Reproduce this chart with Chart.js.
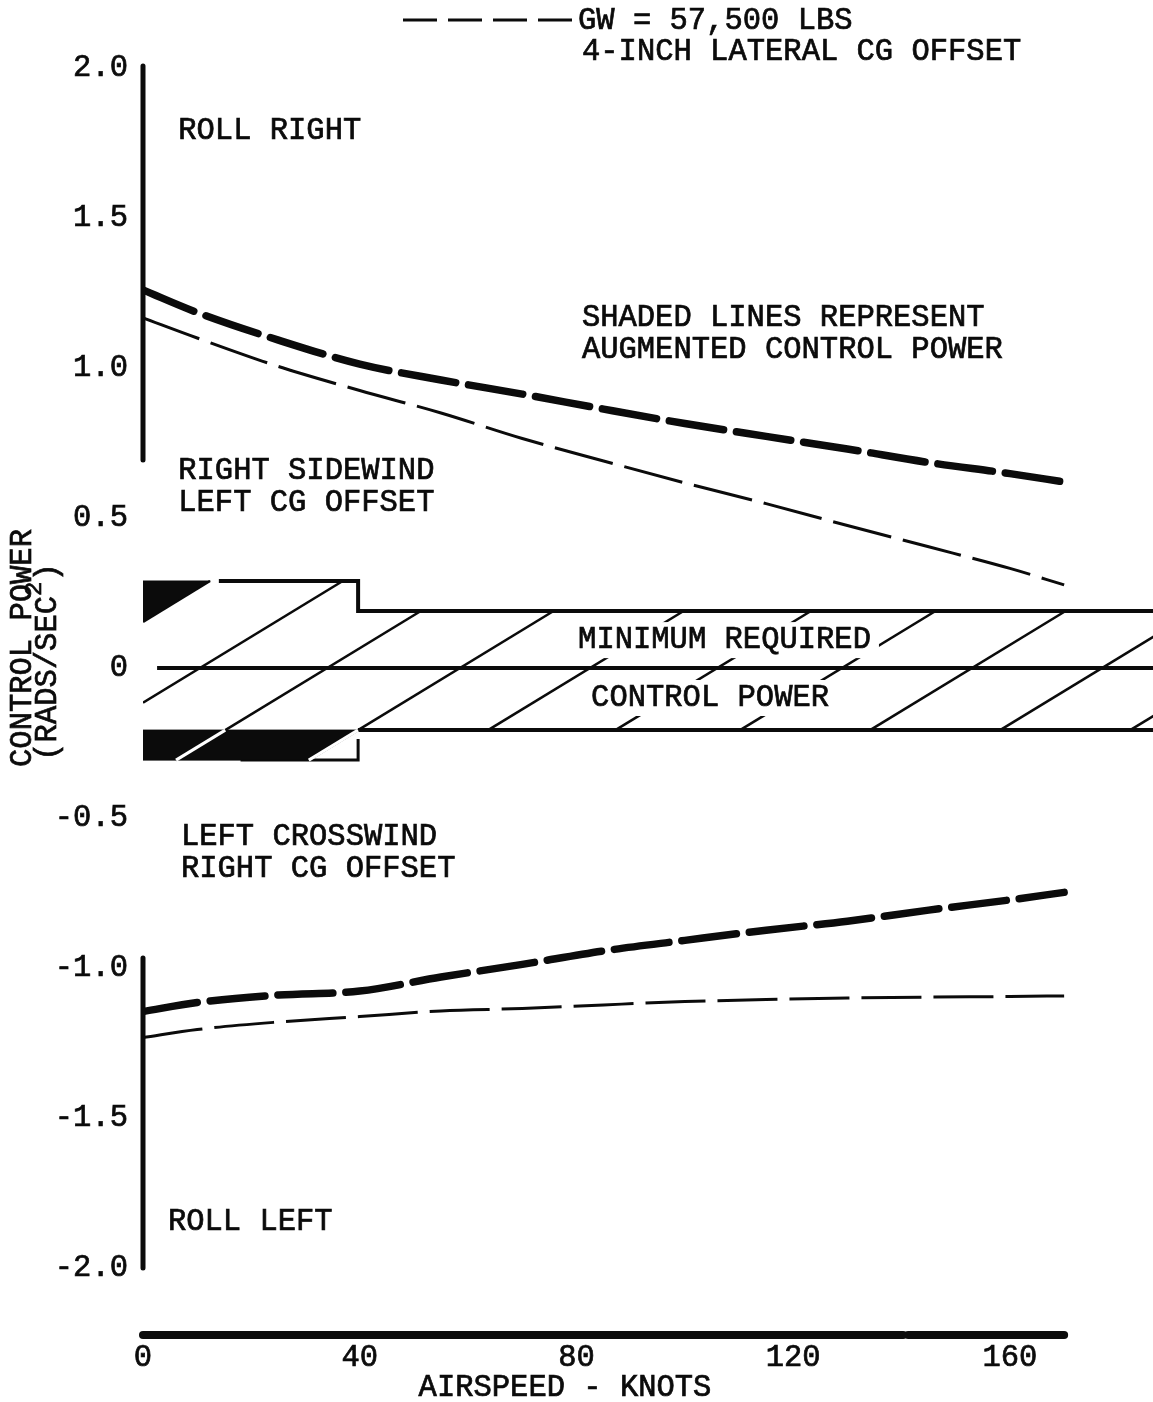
<!DOCTYPE html>
<html>
<head>
<meta charset="utf-8">
<title>Control power vs airspeed</title>
<script src="https://cdn.jsdelivr.net/npm/chart.js@4.4.1/dist/chart.umd.min.js"></script>
<style>
  html, body { margin: 0; padding: 0; background: #fff; }
  canvas { display: block; }
</style>
</head>
<body>
<canvas id="power-chart" width="1153" height="1402"></canvas>
<script>
const FONT = "'Liberation Mono', 'Courier New', monospace";
const FONT_PX = 30.5;
const INK = '#0b0b0b';

// airspeed stations (knots) shared by the four curves
const speeds = [0, 10, 25, 40, 55, 70, 85, 100, 115, 130, 145, 160, 170];
// right sidewind / left CG offset -> roll right
const rightAugmented = [1.26, 1.185, 1.093, 1.013, 0.96, 0.913, 0.863, 0.815, 0.772, 0.73, 0.685, 0.648, 0.62];
const rightBasic = [1.167, 1.1, 1.005, 0.925, 0.85, 0.765, 0.69, 0.617, 0.548, 0.475, 0.404, 0.332, 0.277];
// left crosswind / right CG offset -> roll left
const leftAugmented = [-1.145, -1.115, -1.09, -1.077, -1.03, -0.988, -0.943, -0.908, -0.874, -0.844, -0.807, -0.773, -0.748];
const leftBasic = [-1.232, -1.205, -1.18, -1.162, -1.143, -1.135, -1.123, -1.112, -1.105, -1.1, -1.097, -1.095, -1.093];

// minimum required control power band (below / above the 40 kt step)
const bandStep = 39.7;
const bandTop = [0.29, 0.19];
const bandBottom = [-0.307, -0.207];
const bandEnd = 186.4;
// hatch strokes: speed where each one crosses zero, and rise per knot
const hatchCross = [-14, 10.5, 34, 58.5, 82.5, 106, 129, 153, 177, 201];
const hatchRise = 0.011;
// solid black corners of the low speed part of the band
const shadeTop = [{ x: 0, y: 0.29 }, { x: 12.4, y: 0.29 }, { x: 0, y: 0.154 }];
const shadeBottom = [{ x: 0, y: -0.207 }, { x: 39.7, y: -0.207 }, { x: 30.6, y: -0.307 }, { x: 0, y: -0.307 }];

// hand drawn axis strokes
const yAxisUpper = [2.007, 0.693];
const yAxisLower = [-0.967, -2.0];
const xAxisLevel = -2.223;
const xAxisRuns = [[0, 140.3], [141.2, 170]];

const xTicks = [0, 40, 80, 120, 160];
const yTicks = [2, 1.5, 1, 0.5, 0, -0.5, -1, -1.5, -2];
const yTickLabels = ['2.0', '1.5', '1.0', '0.5', '0', '-0.5', '-1.0', '-1.5', '-2.0'];

const notes = [
	{ text: 'ROLL RIGHT', x: 6.5, y: 1.79 },
	{ text: 'SHADED LINES REPRESENT', x: 81, y: 1.167 },
	{ text: 'AUGMENTED CONTROL POWER', x: 81, y: 1.06 },
	{ text: 'RIGHT SIDEWIND', x: 6.5, y: 0.657 },
	{ text: 'LEFT CG OFFSET', x: 6.5, y: 0.55 },
	{ text: 'MINIMUM REQUIRED', x: 80.3, y: 0.093, clear: true },
	{ text: 'CONTROL POWER', x: 82.7, y: -0.1, clear: true },
	{ text: 'LEFT CROSSWIND', x: 7, y: -0.563 },
	{ text: 'RIGHT CG OFFSET', x: 7, y: -0.67 },
	{ text: 'ROLL LEFT', x: 4.6, y: -1.847 },
];

const pts = (xs, ys) => xs.map((x, i) => ({ x, y: ys[i] }));

// one hatch stroke clipped to the band outline
function hatchStroke(c) {
	const at = (x) => hatchRise * (x - c);
	const xAt = (y) => c + y / hatchRise;
	let x2 = xAt(bandTop[0]), y2 = bandTop[0];
	if (x2 >= bandStep) {
		x2 = xAt(bandTop[1]); y2 = bandTop[1];
		if (x2 < bandStep) { x2 = bandStep; y2 = at(bandStep); }
	}
	let x1 = xAt(bandBottom[0]), y1 = bandBottom[0];
	if (x1 >= bandStep) {
		x1 = xAt(bandBottom[1]); y1 = bandBottom[1];
		if (x1 < bandStep) { x1 = bandStep; y1 = at(bandStep); }
	}
	if (x1 < 0) { x1 = 0; y1 = at(0); }
	return [{ x: x1, y: y1 }, { x: x2, y: y2 }];
}

// part of a stroke running through the black strip under the band
function stripGap(c) {
	const xa = c + bandBottom[0] / hatchRise;
	const xb = c + bandBottom[1] / hatchRise;
	if (xa < 0 || xb > bandStep + 0.5) return null;
	return [{ x: xa, y: bandBottom[0] }, { x: xb, y: bandBottom[1] }];
}

const line = (data, width, extra) => Object.assign({
	data, borderColor: INK, borderWidth: width, pointRadius: 0, fill: false, tension: 0,
}, extra);

const datasets = [];
// axes on top
datasets.push(line(pts([0, 0], yAxisUpper), 5, { order: 1, clip: false, borderCapStyle: 'round' }));
datasets.push(line(pts([0, 0], yAxisLower), 5, { order: 1, clip: false, borderCapStyle: 'round' }));
xAxisRuns.forEach((r) => datasets.push(line(pts(r, [xAxisLevel, xAxisLevel]), 8, { order: 1, clip: false, borderCapStyle: 'round' })));
// curves
const thick = { order: 2, borderDash: [55, 13], borderCapStyle: 'round', cubicInterpolationMode: 'monotone' };
const thin = { order: 2, borderDash: [60, 12], cubicInterpolationMode: 'monotone' };
datasets.push(line(pts(speeds, rightAugmented), 7.5, thick));
datasets.push(line(pts(speeds, rightBasic), 3, thin));
datasets.push(line(pts(speeds, leftAugmented), 7.5, thick));
datasets.push(line(pts(speeds, leftBasic), 3, thin));
// white strokes through the black strip
hatchCross.forEach((c) => {
	const g = stripGap(c);
	if (g) datasets.push(line(g, 3, { order: 3, borderColor: '#fff' }));
});
// black corners
datasets.push(line(shadeTop, 1, { order: 4, fill: 'shape', backgroundColor: INK }));
datasets.push(line(shadeBottom, 1, { order: 4, fill: 'shape', backgroundColor: INK }));
// band outline and zero line
datasets.push(line([{ x: 14, y: bandTop[0] }, { x: bandStep, y: bandTop[0] }, { x: bandStep, y: bandTop[1] }, { x: bandEnd, y: bandTop[1] }], 4, { order: 5 }));
datasets.push(line([{ x: 18, y: bandBottom[0] }, { x: bandStep, y: bandBottom[0] }, { x: bandStep, y: bandBottom[1] - 0.03 }], 3, { order: 5 }));
datasets.push(line([{ x: bandStep, y: bandBottom[1] }, { x: bandEnd, y: bandBottom[1] }], 4, { order: 5 }));
datasets.push(line([{ x: 2.6, y: 0 }, { x: bandEnd, y: 0 }], 4, { order: 5 }));
// hatching
hatchCross.forEach((c) => datasets.push(line(hatchStroke(c), 2.6, { order: 6 })));

// typewriter-ish text: fill plus a hairline stroke for weight
function ink(ctx, text, x, y) {
	ctx.fillText(text, x, y);
	ctx.strokeText(text, x, y);
}

// free text, legend key and axis titles
const annotate = {
	id: 'annotate',
	afterDatasetsDraw(chart) {
		const { ctx, scales } = chart;
		ctx.save();
		ctx.font = `${FONT_PX}px ${FONT}`;
		ctx.textBaseline = 'middle';
		ctx.textAlign = 'left';
		ctx.strokeStyle = INK;
		ctx.lineWidth = 0.7;
		notes.forEach((n) => {
			const px = scales.x.getPixelForValue(n.x);
			const py = scales.y.getPixelForValue(n.y);
			if (n.clear) {
				const w = ctx.measureText(n.text).width;
				ctx.fillStyle = '#fff';
				ctx.fillRect(px - 8, py - 18, w + 16, 36);
			}
			ctx.fillStyle = INK;
			ink(ctx, n.text, px, py);
		});

		// legend key
		ctx.lineWidth = 3;
		ctx.setLineDash([34, 11]);
		ctx.beginPath();
		ctx.moveTo(403, 20);
		ctx.lineTo(574, 20);
		ctx.stroke();
		ctx.setLineDash([]);
		ctx.lineWidth = 0.7;
		ctx.fillStyle = INK;
		ink(ctx, 'GW = 57,500 LBS', 578, 21);
		ink(ctx, '4-INCH LATERAL CG OFFSET', 582, 52);

		// x title
		ctx.textAlign = 'center';
		ink(ctx, 'AIRSPEED - KNOTS', 565, 1388);

		// y title, rotated
		ctx.translate(23, 648);
		ctx.rotate(-Math.PI / 2);
		ink(ctx, 'CONTROL POWER', 0, 0);
		const a = '(RADS/SEC', b = '2', c = ')';
		const wa = ctx.measureText(a).width;
		ctx.font = `24px ${FONT}`;
		const wb = ctx.measureText(b).width;
		ctx.font = `${FONT_PX}px ${FONT}`;
		const wc = ctx.measureText(c).width;
		const x0 = -(wa + wb + wc) / 2 - 14;
		ctx.textAlign = 'left';
		ink(ctx, a, x0, 25);
		ctx.font = `24px ${FONT}`;
		ink(ctx, b, x0 + wa, 12);
		ctx.font = `${FONT_PX}px ${FONT}`;
		ink(ctx, c, x0 + wa + wb, 25);
		ctx.restore();
	},
};

const tickFont = { family: FONT, size: FONT_PX };
const tickInk = { font: tickFont, color: INK, textStrokeColor: INK, textStrokeWidth: 0.7, autoSkip: false };
const chart = new Chart(document.getElementById('power-chart').getContext('2d'), {
	type: 'line',
	data: { datasets },
	options: {
		responsive: false,
		animation: false,
		events: [],
		layout: { padding: { top: 68, left: 0, right: 0, bottom: 0 } },
		plugins: { legend: { display: false }, tooltip: { enabled: false } },
		scales: {
			x: {
				type: 'linear',
				min: 0,
				max: bandEnd,
				grid: { display: false, drawTicks: false },
				border: { display: false },
				afterBuildTicks: (s) => { s.ticks = xTicks.map((v) => ({ value: v })); },
				afterFit: (s) => { s.height = 65; },
				ticks: Object.assign({ padding: 3, maxRotation: 0 }, tickInk),
			},
			y: {
				type: 'linear',
				min: -2.23,
				max: 2.0,
				grid: { display: false, drawTicks: false },
				border: { display: false },
				afterBuildTicks: (s) => { s.ticks = yTicks.map((v) => ({ value: v })); },
				afterFit: (s) => { s.width = 143; },
				ticks: Object.assign({
					padding: 15,
					callback: (v) => yTickLabels[yTicks.indexOf(v)],
				}, tickInk),
			},
		},
	},
	plugins: [annotate],
});
</script>
</body>
</html>
